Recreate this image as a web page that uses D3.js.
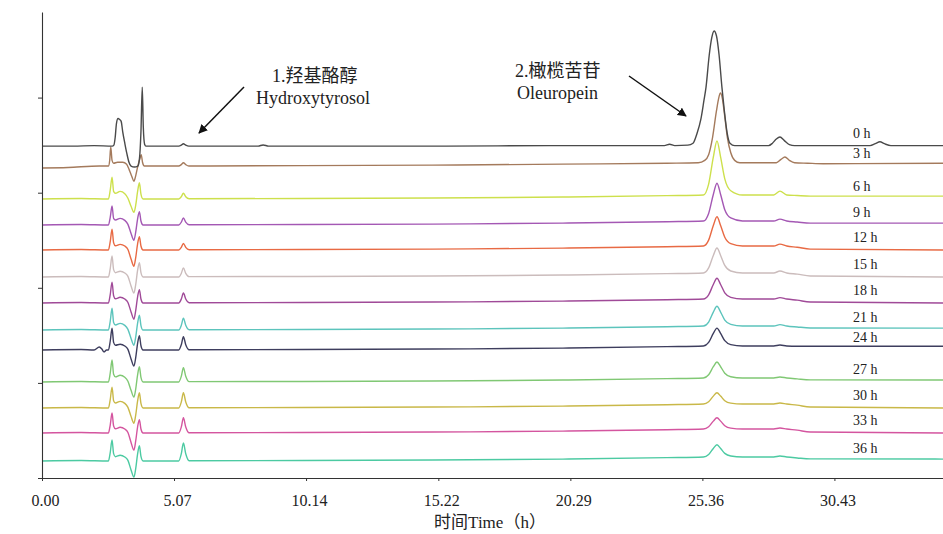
<!DOCTYPE html>
<html>
<head>
<meta charset="utf-8">
<script src="https://cdn.jsdelivr.net/npm/d3@7"></script>
<style>
  html, body { margin: 0; padding: 0; background: #ffffff; }
  svg { display: block; }
</style>
</head>
<body>
<svg id="chart" width="943" height="534"></svg>
<script>
// ---------------- DATA ----------------
const labels = ["0 h","3 h","6 h","9 h","12 h","15 h","18 h","21 h","24 h","27 h","30 h","33 h","36 h"];
// vertical stacking offsets of each trace (mAU)
const offsets = [349, 328, 293.4, 266, 239.7, 211.4, 184, 155.6, 134.6, 101, 73.6, 47.3, 17.9];
const xTicks = [0, 5.07, 10.14, 15.22, 20.29, 25.36, 30.43];
const yTicks = [0, 100, 200, 300, 400];
const xDomain = [0, 34.6];
const yDomain = [0, 490];

// each trace: [retention time (min), signal above its baseline (mAU)]
const trace0h = [[0,0],[1.2,0],[2.0,0.5],[2.7,0],[2.76,1],[2.81,9],[2.86,24],[2.92,29],[2.98,28],[3.04,26],[3.1,15],[3.18,3],[3.26,-8],[3.34,-17],[3.42,-21],[3.55,-22],[3.68,-21],[3.74,-14],[3.8,15],[3.85,62],[3.89,20],[3.94,2],[3.99,0],[5.25,0],[5.35,1],[5.43,2.5],[5.52,1],[5.64,0],[8.3,0],[8.49,1.2],[8.7,0],[15,0],[20,0.5],[23.9,0.5],[24.1,2],[24.3,0.5],[24.8,1],[25.0,3],[25.15,13],[25.3,28],[25.42,48],[25.5,62],[25.62,95],[25.72,114],[25.81,121],[25.9,116],[26.0,96],[26.11,62],[26.2,38],[26.31,14],[26.42,3],[26.6,0.5],[27.9,0.5],[28.05,3],[28.2,7.5],[28.34,9.5],[28.5,6],[28.7,1.5],[28.9,0.5],[31.8,0.5],[32.0,2.5],[32.18,4.5],[32.35,2.5],[32.6,0.5],[34.6,0.5]];
const trace3h = [[0,-2],[1,-1.5],[2.2,0],[2.55,0],[2.6,6],[2.64,20],[2.69,6],[2.75,3],[2.9,4],[3.1,4],[3.25,2],[3.35,-4],[3.45,-11],[3.53,-16],[3.6,-10],[3.68,0],[3.76,8],[3.81,12],[3.86,4],[3.93,0],[5.25,0],[5.35,1.5],[5.43,3.5],[5.52,1.5],[5.64,0],[10,0.5],[15,1],[20,2],[24,3],[25.2,3.5],[25.45,6],[25.6,12],[25.75,30],[25.9,58],[26.0,73],[26.05,77],[26.12,72],[26.22,52],[26.32,30],[26.45,14],[26.6,6],[26.8,3.5],[28.2,3.5],[28.38,7],[28.53,9.5],[28.7,6],[28.9,3.5],[29.4,3],[30,2.5],[34.6,3]];
const trace6h = [[0,0],[1.5,0.5],[2.55,0],[2.62,9.2],[2.69,23],[2.75,8],[2.82,6],[3.0,8],[3.18,5.6],[3.3,0.8],[3.42,-7.7],[3.53,-14],[3.6,-6.3],[3.67,7.7],[3.74,17],[3.8,5.1],[3.88,0],[5.25,0],[5.35,2.4],[5.43,6],[5.52,2.4],[5.65,0.3],[10,0.5],[15,1],[20,2],[24,3.5],[25.4,4.2],[25.6,15.6],[25.78,44],[25.92,61],[26.06,44],[26.22,21.2],[26.45,8.7],[26.9,4.2],[28.1,4.2],[28.34,8.2],[28.6,4.2],[29,3.6],[29.5,3],[34.6,3]];
const trace9h = [[0,0],[1.5,0.5],[2.55,0],[2.62,8],[2.69,20],[2.75,7],[2.82,5.3],[3.0,7],[3.18,4.9],[3.3,0.7],[3.42,-8.8],[3.53,-16],[3.6,-7.2],[3.67,6.3],[3.74,14],[3.8,4.2],[3.88,0],[5.25,0],[5.35,3],[5.43,7.5],[5.52,3],[5.65,0.3],[10,0.5],[15,1],[20,2],[24,3.5],[25.4,4.2],[25.6,12.2],[25.78,32.1],[25.92,44],[26.06,32.1],[26.22,16.1],[26.45,7.4],[26.9,4.2],[28.1,4.2],[28.34,6.2],[28.6,4.2],[29,3.2],[29.5,2],[34.6,2]];
const trace12h = [[0,0],[1.5,0.5],[2.55,0],[2.62,8.8],[2.69,22],[2.75,7.7],[2.82,4.5],[3.0,6],[3.18,4.2],[3.3,0.6],[3.42,-9.4],[3.53,-17],[3.6,-7.7],[3.67,6.3],[3.74,14],[3.8,4.2],[3.88,0],[5.25,0],[5.35,2.8],[5.43,7],[5.52,2.8],[5.65,0.3],[10,0.5],[15,1],[20,2],[24,3.5],[25.4,4.2],[25.6,10.4],[25.78,25.8],[25.92,35],[26.06,25.8],[26.22,13.4],[26.45,6.7],[26.9,4.2],[28.1,4.2],[28.34,6.2],[28.6,4.2],[29,3],[29.5,1],[34.6,0]];
const trace15h = [[0,0],[1.5,0.5],[2.55,0],[2.62,8.8],[2.69,22],[2.75,7.7],[2.82,4.5],[3.0,6],[3.18,4.2],[3.3,0.6],[3.42,-9.4],[3.53,-17],[3.6,-7.7],[3.67,6.8],[3.74,15],[3.8,4.5],[3.88,0],[5.25,0],[5.35,3.8],[5.43,9.5],[5.52,3.8],[5.65,0.3],[10,0.5],[15,1],[20,2],[24,3.5],[25.4,4.2],[25.6,9.5],[25.78,22.6],[25.92,30.5],[26.06,22.6],[26.22,12.1],[26.45,6.3],[26.9,4.2],[28.1,4.2],[28.34,6.2],[28.6,4.2],[29,3],[29.5,1],[34.6,0]];
const trace18h = [[0,0],[1.5,0.5],[2.55,0],[2.62,8.8],[2.69,22],[2.75,7.7],[2.82,4.5],[3.0,6],[3.18,4.2],[3.3,0.6],[3.42,-9.4],[3.53,-17],[3.6,-7.7],[3.67,6.3],[3.74,14],[3.8,4.2],[3.88,0],[5.25,0],[5.35,4.2],[5.43,10.5],[5.52,4.2],[5.65,0.3],[10,0.5],[15,1],[20,2],[24,3.5],[25.4,4.2],[25.6,8.6],[25.78,19.5],[25.92,26],[26.06,19.5],[26.22,10.7],[26.45,6],[26.9,4.2],[28.1,4.2],[28.34,5.7],[28.6,4.2],[29,3],[29.5,1],[34.6,0]];
const trace21h = [[0,0],[1.5,0.5],[2.55,0],[2.62,9.2],[2.69,23],[2.75,8],[2.82,5.3],[3.0,7],[3.18,4.9],[3.3,0.7],[3.42,-8.8],[3.53,-16],[3.6,-7.2],[3.67,7],[3.74,15.5],[3.8,4.7],[3.88,0],[5.25,0],[5.35,5],[5.43,12.5],[5.52,5],[5.65,0.3],[10,0.5],[15,1],[20,2],[24,3.5],[25.4,4.2],[25.6,8.4],[25.78,18.8],[25.92,25],[26.06,18.8],[26.22,10.4],[26.45,5.9],[26.9,4.2],[28.1,4.2],[28.34,5.7],[28.6,4.2],[29,3.2],[29.5,2.2],[34.6,2]];
const trace24h = [[0,0],[1.5,0.5],[2.0,0],[2.2,3.2],[2.3,1],[2.38,-2],[2.48,0],[2.55,0],[2.62,9.2],[2.69,23],[2.75,8],[2.82,5],[3.0,6],[3.18,4.2],[3.3,0.6],[3.42,-9.4],[3.53,-17],[3.6,-7.7],[3.67,6.8],[3.74,15],[3.8,4.5],[3.88,0],[5.25,0],[5.35,5.6],[5.43,14],[5.52,5.6],[5.65,0.3],[10,0.5],[15,1],[20,2],[24,3.5],[25.4,4.2],[25.6,8],[25.78,17.4],[25.92,23],[26.06,17.4],[26.22,9.8],[26.45,5.7],[26.9,4.2],[28.1,4.2],[28.34,5.2],[28.6,4.2],[29,4],[29.5,4],[34.6,4]];
const trace27h = [[0,0],[1.5,0.5],[2.55,0],[2.62,9.2],[2.69,23],[2.75,8],[2.82,5.3],[3.0,7],[3.18,4.9],[3.3,0.7],[3.42,-8.8],[3.53,-16],[3.6,-7.2],[3.67,7.2],[3.74,16],[3.8,4.8],[3.88,0],[5.25,0],[5.35,6],[5.43,15],[5.52,6],[5.65,0.3],[10,0.5],[15,1],[20,2],[24,3.5],[25.4,4.2],[25.6,7.6],[25.78,16],[25.92,21],[26.06,16],[26.22,9.2],[26.45,5.5],[26.9,4.2],[28.1,4.2],[28.34,5.2],[28.6,4.2],[29,3.2],[29.5,2.2],[34.6,2]];
const trace30h = [[0,0],[1.5,0.5],[2.55,0],[2.62,8.8],[2.69,22],[2.75,7.7],[2.82,5.3],[3.0,7],[3.18,4.9],[3.3,0.7],[3.42,-8.8],[3.53,-16],[3.6,-7.2],[3.67,7.2],[3.74,16],[3.8,4.8],[3.88,0],[5.25,0],[5.35,6.4],[5.43,16],[5.52,6.4],[5.65,0.3],[10,0.5],[15,1],[20,2],[24,3.5],[25.4,4.2],[25.6,6.6],[25.78,12.5],[25.92,16],[26.06,12.5],[26.22,7.7],[26.45,5.1],[26.9,4.2],[28.1,4.2],[28.34,5.2],[28.6,4.2],[29,3],[29.5,1],[34.6,0]];
const trace33h = [[0,0],[1.5,0.5],[2.55,0],[2.62,8.4],[2.69,21],[2.75,7.4],[2.82,4.5],[3.0,6],[3.18,4.2],[3.3,0.6],[3.42,-9.9],[3.53,-18],[3.6,-8.1],[3.67,6.3],[3.74,14],[3.8,4.2],[3.88,0],[5.25,0],[5.35,6.4],[5.43,16],[5.52,6.4],[5.65,0.3],[10,0.5],[15,1],[20,2],[24,3.5],[25.4,4.2],[25.6,6.6],[25.78,12.5],[25.92,16],[26.06,12.5],[26.22,7.7],[26.45,5.1],[26.9,4.2],[28.1,4.2],[28.34,5.2],[28.6,4.2],[29,3],[29.5,1],[34.6,0]];
const trace36h = [[0,0],[1.5,0.5],[2.55,0],[2.62,8.8],[2.69,22],[2.75,7.7],[2.82,4.5],[3.0,6],[3.18,4.2],[3.3,0.6],[3.42,-9.4],[3.53,-17],[3.6,-7.7],[3.67,7.2],[3.74,16],[3.8,4.8],[3.88,0],[5.25,0],[5.35,7.6],[5.43,19],[5.52,7.6],[5.65,0.3],[10,0.5],[15,1],[20,2],[24,3.5],[25.4,4.2],[25.6,6.8],[25.78,13.2],[25.92,17],[26.06,13.2],[26.22,8],[26.45,5.2],[26.9,4.2],[28.1,4.2],[28.34,5.2],[28.6,4.2],[29,3.2],[29.5,2.2],[34.6,2]];
const traces = [trace0h, trace3h, trace6h, trace9h, trace12h, trace15h, trace18h, trace21h, trace24h, trace27h, trace30h, trace33h, trace36h];

// ---------------- STYLE ----------------
const colors = ["#4a4a4a","#a47a5c","#cde04c","#a458b4","#e86a44","#cbbcbc","#a04a98","#5cc4bc","#3e3e5e","#80c874","#c9b848","#d4559f","#4ccaa2"];
const serif = "'Liberation Serif', 'Times New Roman', 'Noto Sans CJK SC', serif";

const svg = d3.select("#chart");
const x = d3.scaleLinear().domain(xDomain).range([42, 943]);
const y = d3.scaleLinear().domain(yDomain).range([478, 12]);

// traces
const line = d3.line()
  .x(d => x(d[0]))
  .y(d => y(d[1]))
  .curve(d3.curveMonotoneX);

const order = d3.range(traces.length).reverse();
svg.append("g").selectAll("path")
  .data(order)
  .join("path")
  .attr("d", i => line(traces[i].map(p => [p[0], p[1] + offsets[i]])))
  .attr("fill", "none")
  .attr("stroke", i => colors[i])
  .attr("stroke-width", 1.4)
  .attr("stroke-linejoin", "round");

// axes
const xAxis = svg.append("g")
  .attr("transform", `translate(0,${y(0)})`)
  .call(d3.axisBottom(x).tickValues(xTicks).tickFormat(d3.format(".2f")).tickSize(3).tickSizeOuter(0));
xAxis.select(".domain").attr("stroke", "#333").attr("stroke-width", 1.1);
xAxis.selectAll(".tick line").attr("stroke", "#333");
xAxis.selectAll(".tick text")
  .attr("font-family", serif).attr("font-size", 16).attr("fill", "#222")
  .attr("dy", "1.35em").attr("dx", 3);

const yAxis = svg.append("g")
  .attr("transform", `translate(${x(0)},0)`)
  .call(d3.axisLeft(y).tickValues(yTicks).tickFormat("").tickSize(4).tickSizeOuter(0));
yAxis.select(".domain").attr("stroke", "#333").attr("stroke-width", 1.1);
yAxis.selectAll(".tick line").attr("stroke", "#333");

// trace labels
svg.append("g").selectAll("text")
  .data(labels)
  .join("text")
  .attr("x", 853)
  .attr("y", (d, i) => y(offsets[i]) - 8)
  .attr("font-family", serif)
  .attr("font-size", 14)
  .attr("fill", "#222")
  .text(d => d);

// axis title
svg.append("text")
  .attr("x", 490).attr("y", 528)
  .attr("text-anchor", "middle")
  .attr("font-family", serif)
  .attr("font-size", 17)
  .attr("fill", "#222")
  .text("时间Time（h）");

// annotations
const defs = svg.append("defs");
defs.append("marker")
  .attr("id", "arrow")
  .attr("viewBox", "0 0 10 10")
  .attr("refX", 9).attr("refY", 5)
  .attr("markerWidth", 9).attr("markerHeight", 9)
  .attr("markerUnits", "userSpaceOnUse")
  .attr("orient", "auto")
  .append("path").attr("d", "M0,0 L10,5 L0,10 z").attr("fill", "#111");

const ann = svg.append("g").attr("font-family", serif).attr("font-size", 18).attr("fill", "#222");
ann.append("text").attr("x", 272).attr("y", 82).text("1.羟基酪醇");
ann.append("text").attr("x", 256).attr("y", 104).text("Hydroxytyrosol");
ann.append("text").attr("x", 515).attr("y", 77).text("2.橄榄苦苷");
ann.append("text").attr("x", 517).attr("y", 99).text("Oleuropein");

svg.append("line").attr("x1", 244).attr("y1", 87).attr("x2", 199).attr("y2", 133)
  .attr("stroke", "#111").attr("stroke-width", 1.5).attr("marker-end", "url(#arrow)");
svg.append("line").attr("x1", 629).attr("y1", 76).attr("x2", 686).attr("y2", 116)
  .attr("stroke", "#111").attr("stroke-width", 1.5).attr("marker-end", "url(#arrow)");
</script>
</body>
</html>
